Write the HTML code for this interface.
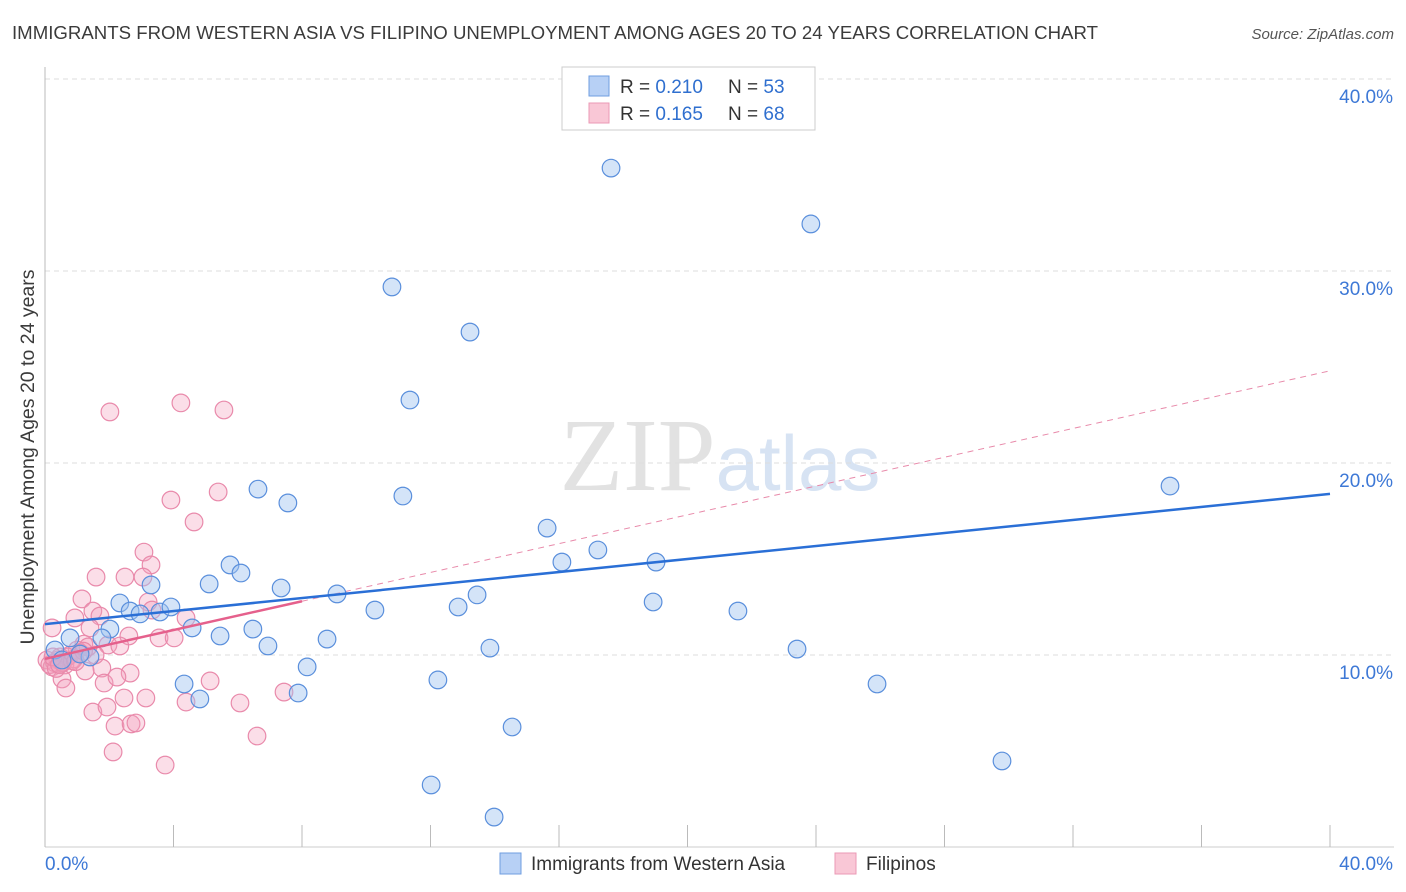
<!DOCTYPE html>
<html><head><meta charset="utf-8"><style>
body{margin:0;background:#fff;font-family:"Liberation Sans",sans-serif}
</style></head><body>
<svg id="chart" width="1406" height="892" xmlns="http://www.w3.org/2000/svg" style="display:block">
<text x="12" y="39" font-size="18" fill="#3b3b3b" textLength="1086" lengthAdjust="spacingAndGlyphs">IMMIGRANTS FROM WESTERN ASIA VS FILIPINO UNEMPLOYMENT AMONG AGES 20 TO 24 YEARS CORRELATION CHART</text>
<text x="1394" y="39" font-size="15" fill="#555" text-anchor="end" font-style="italic">Source: ZipAtlas.com</text>
<text x="720" y="490" font-size="104" text-anchor="middle" fill="#e2e2e2" font-family="Liberation Serif,serif">ZIP<tspan fill="#d7e3f3" font-family="Liberation Sans,sans-serif" font-size="78">atlas</tspan></text>
<g id="grid"></g>
<g id="trend"></g>
<g id="pts"></g>
<text transform="translate(34,457) rotate(-90)" font-size="19.5" fill="#3b3b3b" text-anchor="middle">Unemployment Among Ages 20 to 24 years</text>
<g>
<rect x="562" y="67" width="253" height="63" fill="#fff" stroke="#ccc"/>
<rect x="589" y="76" width="20" height="20" fill="#b7d0f5" stroke="#6f9ee0"/>
<rect x="589" y="103" width="20" height="20" fill="#f9c7d6" stroke="#eb9ab5"/>
<text x="620" y="93" font-size="19" fill="#333">R = <tspan fill="#2f6fcf">0.210</tspan></text>
<text x="728" y="93" font-size="19" fill="#333">N = <tspan fill="#2f6fcf">53</tspan></text>
<text x="620" y="120" font-size="19" fill="#333">R = <tspan fill="#2f6fcf">0.165</tspan></text>
<text x="728" y="120" font-size="19" fill="#333">N = <tspan fill="#2f6fcf">68</tspan></text>
</g>
<g>
<rect x="500" y="853" width="21" height="21" fill="#b7d0f5" stroke="#6f9ee0"/>
<text x="531" y="870" font-size="19" fill="#333">Immigrants from Western Asia</text>
<rect x="835" y="853" width="21" height="21" fill="#f9c7d6" stroke="#eb9ab5"/>
<text x="866" y="870" font-size="19" fill="#333">Filipinos</text>
</g>
</svg>
<script>
const blueX=[17.62,23.84,10.80,13.23,11.36,35.02,6.63,11.14,7.56,15.63,17.21,16.09,19.02,5.76,6.10,3.30,5.11,7.35,9.09,2.33,2.65,2.96,3.58,3.92,2.02,4.58,12.86,13.45,10.27,18.93,21.57,6.47,5.45,8.78,1.77,0.78,6.94,13.85,23.41,1.40,0.31,0.53,8.16,4.33,7.88,12.23,4.82,25.90,14.54,29.79,12.02,13.98,1.09];
const blueY=[35.36,32.45,29.17,26.82,23.28,18.80,18.64,18.28,17.92,16.61,15.47,14.84,14.84,14.69,14.27,13.65,13.70,13.49,13.18,12.71,12.29,12.14,12.24,12.50,11.35,11.41,12.50,13.13,12.34,12.76,12.29,11.35,10.99,10.83,10.89,10.89,10.47,10.36,10.31,9.90,10.26,9.74,9.38,8.49,8.02,8.70,7.71,8.49,6.25,4.48,3.23,1.56,10.05];
const pinkX=[2.02,4.23,5.57,3.92,5.39,4.64,3.08,3.30,1.59,2.49,3.05,1.15,3.21,1.49,0.93,1.71,3.33,4.39,2.61,3.55,4.02,1.40,1.96,2.33,0.22,1.21,0.78,0.40,0.06,0.62,0.22,1.00,1.77,2.65,1.25,1.84,2.24,0.53,0.65,5.14,4.39,2.46,3.14,6.07,7.44,1.49,1.93,2.18,2.68,2.83,2.12,3.74,6.60,1.56,0.47,1.34,0.30,0.90,0.15,0.70,1.10,0.35,0.55,0.85,1.20,0.25,0.45,0.95];
const pinkY=[22.66,23.13,22.76,18.07,18.49,16.93,15.36,14.69,14.06,14.06,14.06,12.92,12.76,12.29,11.93,12.03,12.34,11.93,10.99,10.89,10.89,11.41,10.52,10.47,11.41,10.57,10.0,9.74,9.74,9.48,9.38,10.26,9.32,9.06,9.17,8.54,8.85,8.75,8.28,8.65,7.55,7.76,7.76,7.50,8.07,7.03,7.29,6.30,6.41,6.46,4.95,4.27,5.78,10.0,9.9,10.42,9.6,9.8,9.5,9.9,10.1,9.3,9.6,9.7,10.2,9.9,9.5,9.65];
const yTicks=[10,20,30,40];
const yTickLabels=["10.0%","20.0%","30.0%","40.0%"];
const xTicks=[0,4,8,12,16,20,24,28,32,36,40];
const blueFit=[11.61,18.39];
const pinkFit=[9.8,24.8];
const pinkSolidEnd=8;

const NS="http://www.w3.org/2000/svg";
const sx=v=>45+v*32.125, sy=v=>847-v*19.2;
function mk(tag,attrs,parent){const e=document.createElementNS(NS,tag);for(const k in attrs)e.setAttribute(k,attrs[k]);parent.appendChild(e);return e;}
const grid=document.getElementById('grid'),trend=document.getElementById('trend'),pts=document.getElementById('pts');
yTicks.forEach((t,i)=>{
 const l=mk('line',{x1:45,x2:1394,y1:sy(t),y2:sy(t),stroke:'#ddd','stroke-dasharray':'5,4'},grid);
 
 
 const tx=mk('text',{x:1393,y:sy(t)+24,'font-size':19,fill:'#3d78d6','text-anchor':'end'},grid);
 tx.textContent=yTickLabels[i];
 
 
});
const ax=mk('line',{x1:45,x2:45,y1:67,y2:847,stroke:'#bbb'},grid);


const bx=mk('line',{x1:45,x2:1394,y1:847,y2:847,stroke:'#ccc'},grid);


xTicks.forEach(t=>{
 const l=mk('line',{x1:sx(t),x2:sx(t),y1:825,y2:847,stroke:'#bbb'},grid);
 
 
});
const x0=mk('text',{x:45,y:870,'font-size':19,fill:'#3d78d6'},grid);x0.textContent='0.0%';


const x1=mk('text',{x:1393,y:870,'font-size':19,fill:'#3d78d6','text-anchor':'end'},grid);x1.textContent='40.0%';


function dot(x,y,f,s,name){const c=mk('circle',{cx:sx(x),cy:sy(y),r:8.8,fill:f,stroke:s,'stroke-width':1.2},pts);
 
 }
pinkX.forEach((x,i)=>dot(x,pinkY[i],'rgba(244,160,188,0.35)','#e98aab','filipinos-point'));
blueX.forEach((x,i)=>dot(x,blueY[i],'rgba(160,195,240,0.45)','#5a8fdc','western-asia-point'));
const pf=x=>pinkFit[0]+(pinkFit[1]-pinkFit[0])*x/40;
const pd=mk('line',{x1:sx(pinkSolidEnd),y1:sy(pf(pinkSolidEnd)),x2:sx(40),y2:sy(pf(40)),stroke:'#e88aaa','stroke-dasharray':'6,5','stroke-width':1},trend);


const ps=mk('line',{x1:sx(0),y1:sy(pf(0)),x2:sx(pinkSolidEnd),y2:sy(pf(pinkSolidEnd)),stroke:'#e5608c','stroke-width':2.5},pts);


const bl=mk('line',{x1:sx(0),y1:sy(blueFit[0]),x2:sx(40),y2:sy(blueFit[1]),stroke:'#2a6fd6','stroke-width':2.5},pts);


</script>
</body></html>
